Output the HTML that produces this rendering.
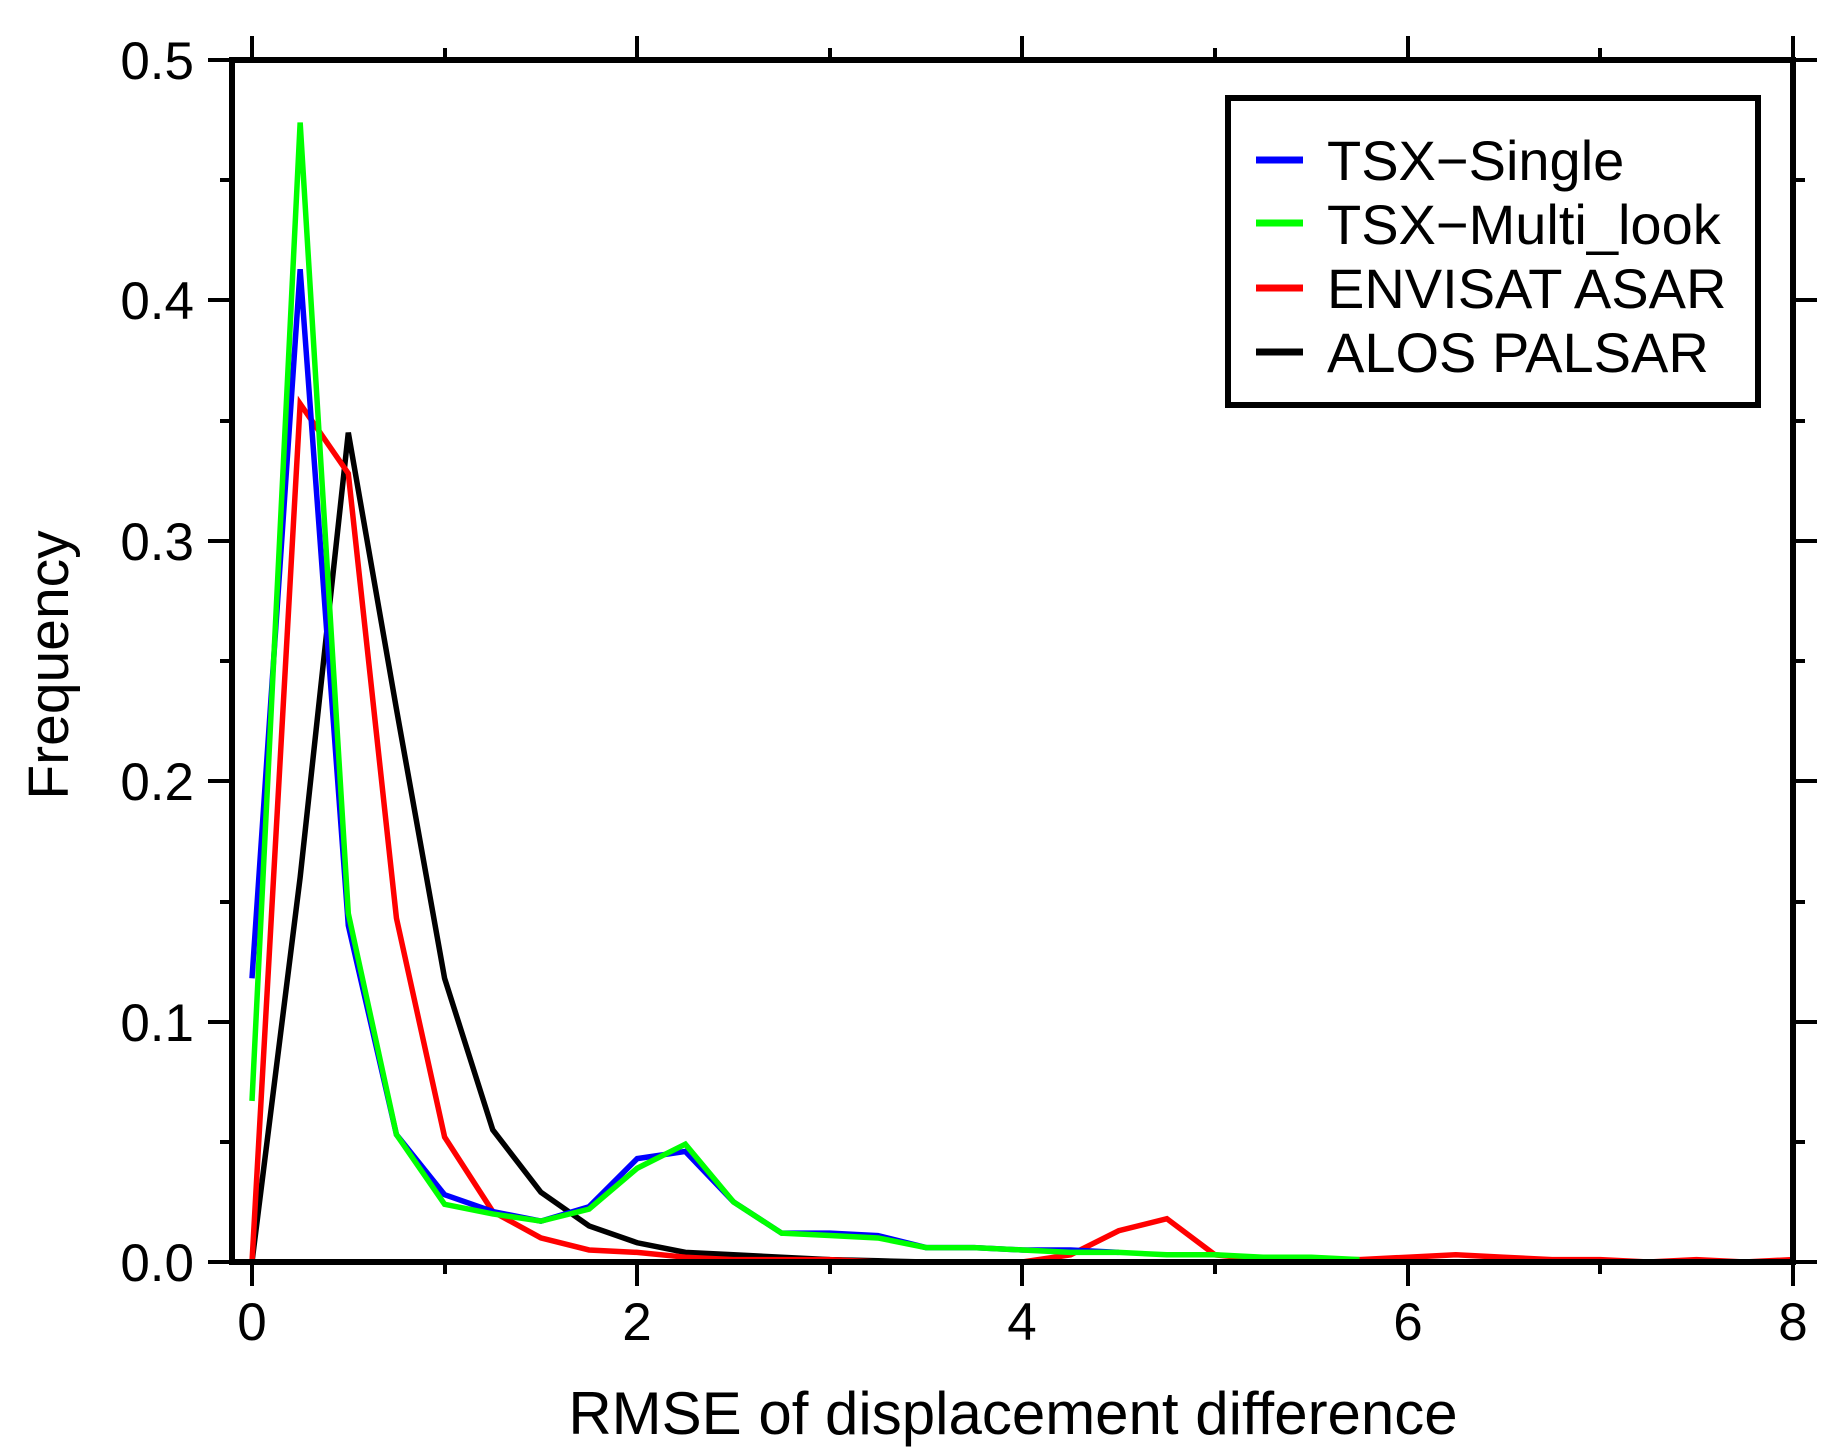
<!DOCTYPE html>
<html><head><style>body{margin:0;background:#fff}svg{display:block}</style></head>
<body>
<svg width="1840" height="1455" xmlns="http://www.w3.org/2000/svg" font-family="Liberation Sans, sans-serif">
<rect width="1840" height="1455" fill="#fff"/>
<g transform="translate(252,1262) scale(48.15,-2404)" fill="none" stroke-width="5.5" stroke-linejoin="miter">
<polyline vector-effect="non-scaling-stroke" stroke="#000" points="0,0 1,0.16 2,0.345 3,0.23 4,0.118 5,0.055 6,0.029 7,0.015 8,0.008 9,0.004 10,0.003 11,0.002 12,0.001 13,0.0005 14,0 16,0"/>
<polyline vector-effect="non-scaling-stroke" stroke="#f00" points="0,0 1,0.357 2,0.328 3,0.143 4,0.052 5,0.021 6,0.01 7,0.005 8,0.004 9,0.002 10,0.001 11,0.001 12,0.001 13,0 14,0 15,0 16,0 17,0.003 18,0.013 19,0.018 20,0.003 21,0.001 22,0.001 23,0.001 24,0.002 25,0.003 26,0.002 27,0.001 28,0.001 29,0 30,0.001 31,0 32,0.001"/>
<polyline vector-effect="non-scaling-stroke" stroke="#00f" points="0,0.118 1,0.413 2,0.14 3,0.053 4,0.028 5,0.021 6,0.017 7,0.023 8,0.043 9,0.046 10,0.025 11,0.012 12,0.012 13,0.011 14,0.006 15,0.006 16,0.005 17,0.005 18,0.004"/>
<polyline vector-effect="non-scaling-stroke" stroke="#0f0" points="0,0.067 1,0.474 2,0.145 3,0.053 4,0.024 5,0.020 6,0.017 7,0.022 8,0.039 9,0.049 10,0.025 11,0.012 12,0.011 13,0.010 14,0.006 15,0.006 16,0.005 17,0.004 18,0.004 19,0.003 20,0.003 21,0.002 22,0.002 23,0.001"/>
</g>
<rect x="232" y="60" width="1561" height="1202" fill="none" stroke="#000" stroke-width="6"/>
<g stroke="#000" stroke-width="4">
<path d="M208,60H232M208,1262H232M208,1022H232M208,781H232M208,541H232M208,300H232
M220,1142H232M220,902H232M220,661H232M220,421H232M220,180H232
M1793,1022H1817M1793,781H1817M1793,541H1817M1793,300H1817M1793,1262H1817M1793,60H1817
M1793,1142H1805M1793,902H1805M1793,661H1805M1793,421H1805M1793,180H1805
M252,36V60M637,36V60M1022,36V60M1408,36V60M1793,36V60
M445,48V60M830,48V60M1215,48V60M1600,48V60
M252,1262V1286M637,1262V1286M1022,1262V1286M1408,1262V1286M1793,1262V1286
M445,1262V1274M830,1262V1274M1215,1262V1274M1600,1262V1274"/>
</g>
<g font-size="53" text-anchor="end" fill="#000">
<text x="194" y="1281">0.0</text><text x="194" y="1041">0.1</text><text x="194" y="800">0.2</text>
<text x="194" y="560">0.3</text><text x="194" y="319">0.4</text><text x="194" y="79">0.5</text>
</g>
<g font-size="53" text-anchor="middle" fill="#000">
<text x="252" y="1340">0</text><text x="637" y="1340">2</text><text x="1022" y="1340">4</text>
<text x="1408" y="1340">6</text><text x="1793" y="1340">8</text>
<text x="1013" y="1434" font-size="60">RMSE of displacement difference</text>
<text transform="translate(68,665) rotate(-90)" font-size="57">Frequency</text>
</g>
<rect x="1228" y="98" width="530" height="307" fill="#fff" stroke="#000" stroke-width="6"/>
<g stroke-width="7">
<line x1="1256" y1="160" x2="1303" y2="160" stroke="#00f"/>
<line x1="1256" y1="223" x2="1303" y2="223" stroke="#0f0"/>
<line x1="1256" y1="288" x2="1303" y2="288" stroke="#f00"/>
<line x1="1256" y1="352" x2="1303" y2="352" stroke="#000"/>
</g>
<g font-size="56" fill="#000">
<text x="1327" y="180">TSX−Single</text>
<text x="1327" y="244">TSX−Multi_look</text>
<text x="1327" y="308">ENVISAT ASAR</text>
<text x="1327" y="372">ALOS PALSAR</text>
</g>
</svg>
</body></html>
